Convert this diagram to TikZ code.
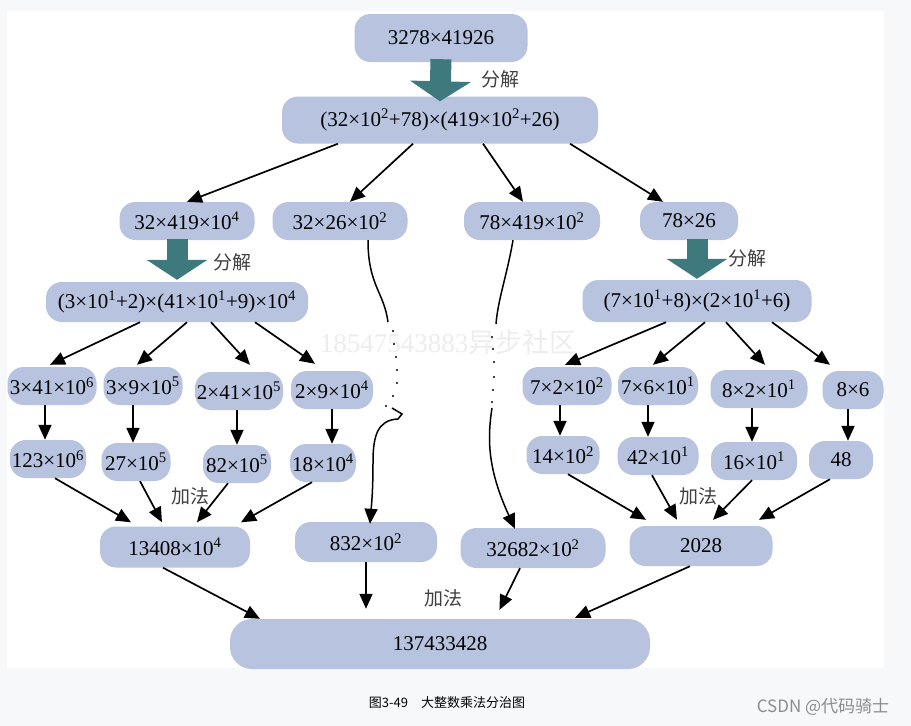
\documentclass[tikz,border=0pt]{standalone}
\usepackage{fontspec}
\setmainfont{Liberation Serif}
\newfontfamily\cjk{Noto Sans CJK SC}
\usetikzlibrary{arrows.meta}
\definecolor{blobfill}{RGB}{183,195,223}
\definecolor{fatteal}{RGB}{62,121,126}
\definecolor{pagegray}{RGB}{247,248,250}
\newcommand{\sq}[1]{\textsuperscript{#1}}

\begin{document}
\begin{tikzpicture}[x=1pt,y=-1pt,
	blob/.style={fill=blobfill, rounded corners=16pt, minimum height=38pt, inner sep=2pt, font=\fontsize{21}{24}\selectfont},
	link/.style={line width=1.7pt, -{Triangle[length=15pt,width=13pt]}},
	curl/.style={line width=1.5pt},
	fat/.style={draw=fatteal, line width=21pt, -{Triangle[length=20pt,width=60pt]}},
	tag/.style={font=\cjk\fontsize{19}{22}\selectfont, text=black!75}]

	\fill[pagegray] (0,0) rectangle (911,726);
	\fill[white] (7,11) rectangle (884,668);
	\node[text=black!7, font=\fontsize{27}{30}\selectfont] (mark) at (448,342) {18547543883{\cjk 异步社区}};

	\node[blob, minimum width=173pt, minimum height=48pt] (top) at (441,38) {3278×41926};
	\node[blob, minimum width=316pt, minimum height=47pt] (split) at (440,120) {(32×10\sq{2}+78)×(419×10\sq{2}+26)};

	\node[blob, minimum width=135pt] (aa) at (187,221) {32×419×10\sq{4}};
	\node[blob, minimum width=135pt] (ab) at (340,221) {32×26×10\sq{2}};
	\node[blob, minimum width=136pt] (ba) at (532,221) {78×419×10\sq{2}};
	\node[blob, minimum width=98pt] (bb) at (689,221) {78×26};

	\node[blob, minimum width=262pt, minimum height=40pt] (asplit) at (177,302) {(3×10\sq{1}+2)×(41×10\sq{1}+9)×10\sq{4}};
	\node[blob, minimum width=229pt, minimum height=42pt] (bsplit) at (697,301) {(7×10\sq{1}+8)×(2×10\sq{1}+6)};

	\node[blob, minimum width=89pt] (p1) at (52,386) {3×41×10\sq{6}};
	\node[blob, minimum width=79pt] (p2) at (143,386) {3×9×10\sq{5}};
	\node[blob, minimum width=88pt] (p3) at (239,391) {2×41×10\sq{5}};
	\node[blob, minimum width=82pt] (p4) at (332,390) {2×9×10\sq{4}};
	\node[blob, minimum width=89pt] (q1) at (567,386) {7×2×10\sq{2}};
	\node[blob, minimum width=80pt] (q2) at (658,386) {7×6×10\sq{1}};
	\node[blob, minimum width=97pt] (q3) at (759,389) {8×2×10\sq{1}};
	\node[blob, minimum width=61pt] (q4) at (853,390) {8×6};

	\node[blob, minimum width=73pt] (r1) at (48,459) {123×10\sq{6}};
	\node[blob, minimum width=69pt] (r2) at (136,462) {27×10\sq{5}};
	\node[blob, minimum width=68pt] (r3) at (237,464) {82×10\sq{5}};
	\node[blob, minimum width=65pt] (r4) at (323,463) {18×10\sq{4}};
	\node[blob, minimum width=73pt] (s1) at (563,455) {14×10\sq{2}};
	\node[blob, minimum width=81pt] (s2) at (658,456) {42×10\sq{1}};
	\node[blob, minimum width=86pt] (s3) at (754,461) {16×10\sq{1}};
	\node[blob, minimum width=64pt] (s4) at (841,460) {48};

	\node[blob, minimum width=150pt, minimum height=41pt] (suma) at (175,547) {13408×10\sq{4}};
	\node[blob, minimum width=142pt, minimum height=40pt] (mida) at (366,542) {832×10\sq{2}};
	\node[blob, minimum width=145pt, minimum height=40pt] (midb) at (533,548) {32682×10\sq{2}};
	\node[blob, minimum width=143pt, minimum height=40pt] (sumb) at (701,546) {2028};

	\node[blob, minimum width=420pt, minimum height=50pt, rounded corners=22pt] (result) at (440,644) {137433428};

	\draw[fat] ([yshift=3pt]top.south) -- ([yshift=-5pt]split.north);
	\draw[fat] ([yshift=1pt]asplit.north |- aa.south) -- ([yshift=2pt]asplit.north);
	\draw[fat] ([yshift=1pt]bsplit.north |- bb.south) -- ([yshift=1pt]bsplit.north);
	\node[tag] (cut1) at (500,79) {分解};
	\node[tag] (cut2) at (232,262) {分解};
	\node[tag] (cut3) at (747,258) {分解};

	\draw[link] ([xshift=-102pt]split.south) -- (aa.north);
	\draw[link] ([xshift=-27pt]split.south) -- ([xshift=10pt]ab.north);
	\draw[link] ([xshift=43pt]split.south) -- ([xshift=-9pt]ba.north);
	\draw[link] ([xshift=130pt]split.south) -- ([xshift=-26pt]bb.north);

	\draw[link] ([xshift=-37pt]asplit.south) -- ([xshift=-2pt,yshift=2pt]p1.north);
	\draw[link] ([xshift=10pt]asplit.south) -- ([xshift=-6pt,yshift=2pt]p2.north);
	\draw[link] ([xshift=34pt]asplit.south) -- ([xshift=11pt,yshift=7pt]p3.north);
	\draw[link] ([xshift=78pt]asplit.south) -- ([xshift=-17pt,yshift=7pt]p4.north);
	\draw[link] ([xshift=-31pt]bsplit.south) -- ([xshift=-2pt,yshift=2pt]q1.north);
	\draw[link] ([xshift=8pt]bsplit.south) -- ([xshift=-5pt,yshift=2pt]q2.north);
	\draw[link] ([xshift=29pt]bsplit.south) -- ([xshift=6pt,yshift=5pt]q3.north);
	\draw[link] ([xshift=75pt]bsplit.south) -- ([xshift=-23pt,yshift=6pt]q4.north);

	\draw[link] ([xshift=-7pt]p1.south) -- ([xshift=-7pt]p1.south |- r1.north);
	\draw[link] ([xshift=-10pt]p2.south) -- ([xshift=-10pt]p2.south |- r2.north);
	\draw[link] ([xshift=-2pt]p3.south) -- ([xshift=-2pt]p3.south |- r3.north);
	\draw[link] (p4.south) -- (p4.south |- r4.north);
	\draw[link] ([xshift=-7pt]q1.south) -- ([xshift=-7pt]q1.south |- s1.north);
	\draw[link] ([xshift=-10pt]q2.south) -- ([xshift=-10pt]q2.south |- s2.north);
	\draw[link] ([xshift=-7pt]q3.south) -- ([xshift=-7pt]q3.south |- s3.north);
	\draw[link] ([xshift=-5pt]q4.south) -- ([xshift=-5pt]q4.south |- s4.north);

	\draw[link] ([xshift=7pt]r1.south) -- ([xshift=-44pt,yshift=4pt]suma.north);
	\draw[link] ([xshift=4pt]r2.south) -- ([xshift=-13pt,yshift=4pt]suma.north);
	\draw[link] ([xshift=-9pt]r3.south) -- ([xshift=22pt,yshift=4pt]suma.north);
	\draw[link] ([xshift=-11pt]r4.south) -- ([xshift=66pt,yshift=4pt]suma.north);
	\draw[link] ([xshift=5pt]s1.south) -- ([xshift=-55pt,yshift=6pt]sumb.north);
	\draw[link] ([xshift=-6pt]s2.south) -- ([xshift=-24pt,yshift=6pt]sumb.north);
	\draw[link] ([xshift=-2pt]s3.south) -- ([xshift=12pt,yshift=6pt]sumb.north);
	\draw[link] ([xshift=-11pt]s4.south) -- ([xshift=58pt,yshift=6pt]sumb.north);
	\node[tag] (add1) at (190,496) {加法};
	\node[tag] (add2) at (698,496) {加法};

	\draw[link] ([xshift=-12pt]suma.south) -- ([xshift=-180pt]result.north);
	\draw[link, shorten >=10pt] (mida.south) -- (mida.south |- result.north);
	\draw[link, shorten >=10pt] ([xshift=-13pt]midb.south) -- ([xshift=55pt]result.north);
	\draw[link] ([xshift=-11pt]sumb.south) -- ([xshift=135pt,yshift=1pt]result.north);
	\node[tag] (add3) at (443,598) {加法};

	\coordinate (gapa) at (388,322);
	\coordinate (hooka) at (392,408);
	\coordinate (gapb) at (496,324);
	\coordinate (hookb) at (492,408);
	\draw[curl] ([xshift=28pt]ab.south) .. controls +(0,45) and +(-4,-30) .. (gapa);
	\foreach \x/\y in {393/331, 394/344, 396/357, 397/370, 397/383, 393/396, 386/406}
		\fill (\x,\y) circle (1.2pt);
	\draw[curl, -{Triangle[length=15pt,width=13pt]}] (hooka) -- (402,414) -- (398,419) .. controls (378,420) and (373,435) .. (373,462) .. controls (373,495) and (371,510) .. ([xshift=4pt,yshift=-2pt]mida.north);
	\draw[curl] ([xshift=-19pt]ba.south) .. controls +(-6,35) and +(2,-25) .. (gapb);
	\foreach \x/\y in {492/337, 493/349, 494/362, 494/377, 493/390, 492/402}
		\fill (\x,\y) circle (1.2pt);
	\draw[curl, -{Triangle[length=15pt,width=13pt]}] (hookb) .. controls (487,440) and (488,470) .. ([xshift=-18pt,yshift=-1pt]midb.north);

	\node[font=\cjk\fontsize{13}{15}\selectfont] (caption) at (447,703) {图3-49\quad 大整数乘法分治图};
	\node[font=\cjk\fontsize{17}{19}\selectfont, text=black!45] (brand) at (823,707) {CSDN @代码骑士};
\end{tikzpicture}
\end{document}
